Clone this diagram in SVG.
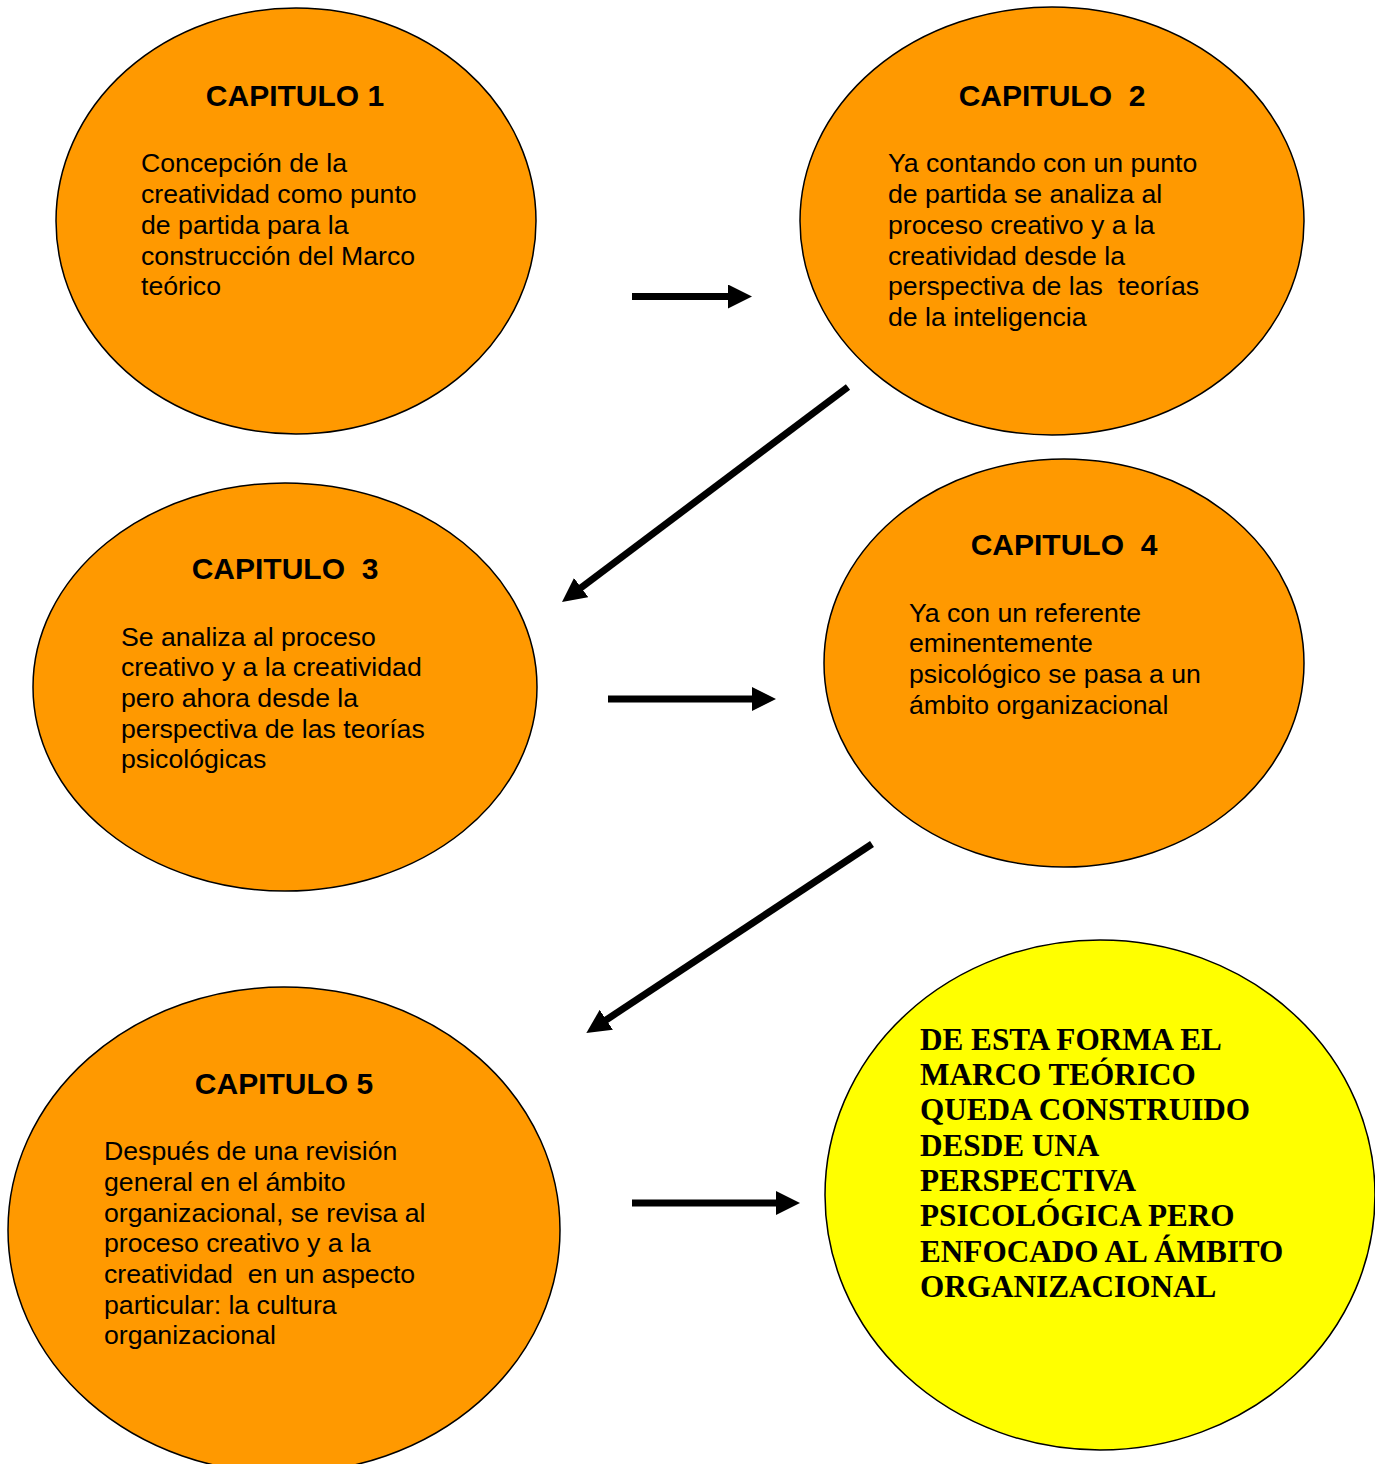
<svg xmlns="http://www.w3.org/2000/svg" width="1375" height="1464" viewBox="0 0 1375 1464">
  <style>
    .bubble { fill: #ff9900; stroke: #000; stroke-width: 1.5; }
    .final { fill: #ffff00; stroke: #000; stroke-width: 1.5; }
    .title { font-family: "Liberation Sans", Arial, sans-serif; font-weight: bold; font-size: 30px; fill: #000; text-anchor: middle; }
    .body { font-family: "Liberation Sans", Arial, sans-serif; font-size: 26.67px; fill: #000; white-space: pre; }
    .closing { font-family: "Liberation Serif", "Times New Roman", serif; font-weight: bold; font-size: 31.2px; fill: #000; }
    .arrow { stroke: #000; stroke-width: 7; fill: none; marker-end: url(#head); }
  </style>
  <defs>
    <marker id="head" markerUnits="userSpaceOnUse" markerWidth="24" markerHeight="24" refX="4" refY="12" orient="auto">
      <path d="M0,0 L24,12 L0,24 Z" fill="#000"/>
    </marker>
  </defs>
  <rect width="1375" height="1464" fill="#fff"/>

  <g id="capitulo-1">
    <ellipse class="bubble" cx="296" cy="221" rx="240" ry="213"/>
    <text class="title" x="295" y="106">CAPITULO 1</text>
    <text class="body">
      <tspan x="141" y="172">Concepción de la</tspan>
      <tspan x="141" y="203">creatividad como punto</tspan>
      <tspan x="141" y="234">de partida para la</tspan>
      <tspan x="141" y="265">construcción del Marco</tspan>
      <tspan x="141" y="295">teórico</tspan>
    </text>
  </g>

  <g id="capitulo-2">
    <ellipse class="bubble" cx="1052" cy="221" rx="252" ry="214"/>
    <text class="title" x="1052" y="106" xml:space="preserve">CAPITULO  2</text>
    <text class="body">
      <tspan x="888" y="172">Ya contando con un punto</tspan>
      <tspan x="888" y="203">de partida se analiza al</tspan>
      <tspan x="888" y="234">proceso creativo y a la</tspan>
      <tspan x="888" y="265">creatividad desde la</tspan>
      <tspan x="888" y="295" xml:space="preserve">perspectiva de las  teorías</tspan>
      <tspan x="888" y="326">de la inteligencia</tspan>
    </text>
  </g>

  <g id="capitulo-3">
    <ellipse class="bubble" cx="285" cy="687" rx="252" ry="204"/>
    <text class="title" x="285" y="579" xml:space="preserve">CAPITULO  3</text>
    <text class="body">
      <tspan x="121" y="646">Se analiza al proceso</tspan>
      <tspan x="121" y="676">creativo y a la creatividad</tspan>
      <tspan x="121" y="707">pero ahora desde la</tspan>
      <tspan x="121" y="738">perspectiva de las teorías</tspan>
      <tspan x="121" y="768">psicológicas</tspan>
    </text>
  </g>

  <g id="capitulo-4">
    <ellipse class="bubble" cx="1064" cy="663" rx="240" ry="204"/>
    <text class="title" x="1064" y="555" xml:space="preserve">CAPITULO  4</text>
    <text class="body">
      <tspan x="909" y="622">Ya con un referente</tspan>
      <tspan x="909" y="652">eminentemente</tspan>
      <tspan x="909" y="683">psicológico se pasa a un</tspan>
      <tspan x="909" y="714">ámbito organizacional</tspan>
    </text>
  </g>

  <g id="capitulo-5">
    <ellipse class="bubble" cx="284" cy="1230" rx="276" ry="243"/>
    <text class="title" x="284" y="1094">CAPITULO 5</text>
    <text class="body">
      <tspan x="104" y="1160">Después de una revisión</tspan>
      <tspan x="104" y="1191">general en el ámbito</tspan>
      <tspan x="104" y="1222">organizacional, se revisa al</tspan>
      <tspan x="104" y="1252">proceso creativo y a la</tspan>
      <tspan x="104" y="1283" xml:space="preserve">creatividad  en un aspecto</tspan>
      <tspan x="104" y="1314">particular: la cultura</tspan>
      <tspan x="104" y="1344">organizacional</tspan>
    </text>
  </g>

  <g id="conclusion">
    <ellipse class="final" cx="1100" cy="1195" rx="275" ry="255"/>
    <text class="closing">
      <tspan x="920" y="1050">DE ESTA FORMA EL</tspan>
      <tspan x="920" y="1085">MARCO TEÓRICO</tspan>
      <tspan x="920" y="1120">QUEDA CONSTRUIDO</tspan>
      <tspan x="920" y="1156">DESDE UNA</tspan>
      <tspan x="920" y="1191">PERSPECTIVA</tspan>
      <tspan x="920" y="1226">PSICOLÓGICA PERO</tspan>
      <tspan x="920" y="1262">ENFOCADO AL ÁMBITO</tspan>
      <tspan x="920" y="1297">ORGANIZACIONAL</tspan>
    </text>
  </g>

  <g id="connectors">
    <line class="arrow" x1="632" y1="296.5" x2="732" y2="296.5"/>
    <line class="arrow" x1="848" y1="387" x2="578" y2="590"/>
    <line class="arrow" x1="608" y1="699" x2="756" y2="699"/>
    <line class="arrow" x1="872" y1="844" x2="603" y2="1022"/>
    <line class="arrow" x1="632" y1="1203" x2="780" y2="1203"/>
  </g>
</svg>
